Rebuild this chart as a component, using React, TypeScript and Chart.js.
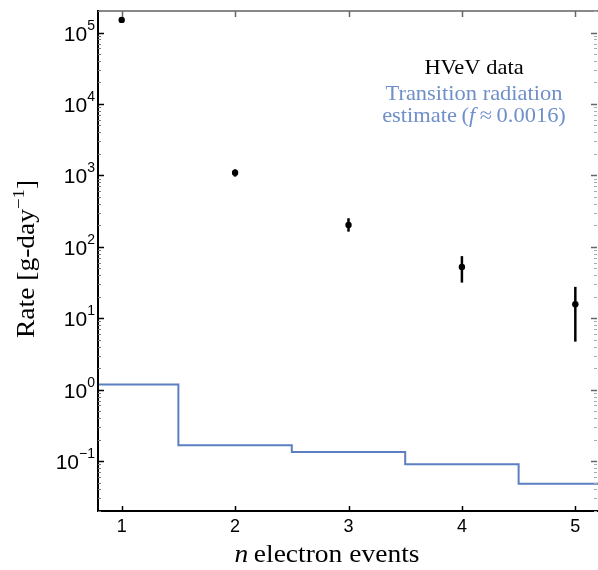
import React, { useEffect, useRef } from 'react';
import { Chart, registerables } from 'chart.js';

Chart.register(...registerables);

// ---- data ----
const nValues = [1, 2, 3, 4, 5];
const hvevRate = [1.5e5, 1090, 202, 52, 15.7];
const hvevLow = [1.42e5, 960, 163, 31.5, 4.7];
const hvevHigh = [1.58e5, 1215, 251, 74, 27.5];
const binEdges = [0.5, 1.5, 2.5, 3.5, 4.5, 5.5];
const trRate = [1.18, 0.167, 0.134, 0.09, 0.048];
const yMajorExps = [-1, 0, 1, 2, 3, 4, 5];
const xTicks = [1, 2, 3, 4, 5];

const X_MIN = 0.8;
const X_MAX = 5.2;
const Y_MIN = 0.02;
const Y_MAX = 2e5;

const LINE_BLUE = '#5b7fc1';
const TEXT_BLUE = '#6f8fc9';
const SERIF = '"Liberation Serif", "DejaVu Serif", serif';
const SANS = '"Liberation Sans", Arial, sans-serif';

// draw text (possibly in mixed fonts) with horizontal stretch, centered at cx
function drawStretched(ctx: any, parts: { t: string; font: string; dy?: number }[], cx: number, y: number, sx: number) {
  let total = 0;
  const widths = parts.map((p) => {
    ctx.font = p.font;
    const w = ctx.measureText(p.t).width;
    total += w;
    return w;
  });
  ctx.save();
  ctx.translate(cx, y);
  ctx.scale(sx, 1);
  ctx.textAlign = 'left';
  let x = -total / 2;
  parts.forEach((p, i) => {
    ctx.font = p.font;
    ctx.fillText(p.t, x, p.dy || 0);
    x += widths[i];
  });
  ctx.restore();
}

const errorBarPlugin = {
  id: 'errorBars',
  beforeDatasetsDraw(chart: any) {
    const { ctx, chartArea } = chart;
    const xs = chart.scales.x;
    const ys = chart.scales.y;
    ctx.save();
    ctx.beginPath();
    ctx.rect(chartArea.left, chartArea.top, chartArea.right - chartArea.left, chartArea.bottom - chartArea.top);
    ctx.clip();
    ctx.strokeStyle = '#000';
    ctx.lineWidth = 2.5;
    nValues.forEach((n, i) => {
      const px = xs.getPixelForValue(n);
      ctx.beginPath();
      ctx.moveTo(px, ys.getPixelForValue(hvevLow[i]));
      ctx.lineTo(px, ys.getPixelForValue(hvevHigh[i]));
      ctx.stroke();
    });
    ctx.restore();
  },
};

const axesPlugin = {
  id: 'customAxes',
  afterDraw(chart: any) {
    const { ctx, chartArea } = chart;
    const xs = chart.scales.x;
    const ys = chart.scales.y;
    const { left, right, top, bottom } = chartArea;
    ctx.save();

    // spines
    ctx.lineWidth = 2;
    ctx.strokeStyle = '#888';
    ctx.beginPath();
    ctx.moveTo(left - 1, top);
    ctx.lineTo(right, top);
    ctx.stroke();
    ctx.strokeStyle = '#000';
    ctx.beginPath();
    ctx.moveTo(left - 1, top - 1);
    ctx.lineTo(left - 1, bottom);
    ctx.lineTo(right, bottom);
    ctx.stroke();

    // x ticks (inward, bottom and top)
    ctx.lineWidth = 1.5;
    xTicks.forEach((t) => {
      const px = Math.round(xs.getPixelForValue(t)) + 0.5;
      ctx.strokeStyle = '#000';
      ctx.beginPath();
      ctx.moveTo(px, bottom);
      ctx.lineTo(px, bottom - 5);
      ctx.stroke();
      ctx.strokeStyle = '#666';
      ctx.beginPath();
      ctx.moveTo(px, top);
      ctx.lineTo(px, top + 6);
      ctx.stroke();
    });

    // y ticks (major + minor) on left and right
    for (let e = -2; e <= 5; e++) {
      for (let k = 1; k <= 9; k++) {
        const v = k * Math.pow(10, e);
        if (v < Y_MIN || v > Y_MAX) continue;
        const py = Math.round(ys.getPixelForValue(v)) + 0.5;
        const len = k === 1 ? 6 : 3;
        ctx.lineWidth = k === 1 ? 1.5 : 1;
        ctx.strokeStyle = k === 1 ? '#000' : '#777';
        ctx.beginPath();
        ctx.moveTo(left - 1, py);
        ctx.lineTo(left - 1 + len, py);
        ctx.stroke();
        ctx.strokeStyle = k === 1 ? '#666' : '#aaa';
        ctx.beginPath();
        ctx.moveTo(right - 1, py);
        ctx.lineTo(right - 1 - len, py);
        ctx.stroke();
      }
    }

    // x tick labels
    ctx.fillStyle = '#000';
    ctx.font = `18px ${SANS}`;
    ctx.textAlign = 'center';
    ctx.textBaseline = 'alphabetic';
    xTicks.forEach((t) => {
      ctx.fillText(String(t), xs.getPixelForValue(t), bottom + 21);
    });

    // y tick labels 10^e
    yMajorExps.forEach((e) => {
      const py = ys.getPixelForValue(Math.pow(10, e));
      const sup = e < 0 ? '\u2212' + Math.abs(e) : String(e);
      ctx.font = `14px ${SANS}`;
      const supW = ctx.measureText(sup).width;
      ctx.textAlign = 'right';
      ctx.fillText(sup, 95, py - 3);
      ctx.font = `21px ${SANS}`;
      ctx.fillText('10', 95 - supW, py + 8);
    });

    // x axis title: "n electron events"
    drawStretched(
      ctx,
      [
        { t: 'n', font: `italic 25px ${SERIF}` },
        { t: '\u2009electron events', font: `25px ${SERIF}` },
      ],
      327,
      562,
      1.1
    );

    // y axis title: Rate [g-day^-1]
    ctx.save();
    ctx.translate(34, 259);
    ctx.rotate(-Math.PI / 2);
    drawStretched(
      ctx,
      [
        { t: 'Rate [g-day', font: `25px ${SERIF}` },
        { t: '\u22121', font: `17px ${SERIF}`, dy: -10 },
        { t: ']', font: `25px ${SERIF}` },
      ],
      0,
      0,
      1.1
    );
    ctx.restore();

    // legend text
    ctx.fillStyle = '#000';
    drawStretched(ctx, [{ t: 'HVeV data', font: `21px ${SERIF}` }], 474, 74, 1.07);
    ctx.fillStyle = TEXT_BLUE;
    drawStretched(ctx, [{ t: 'Transition radiation', font: `21px ${SERIF}` }], 474, 100, 1.07);
    drawStretched(
      ctx,
      [
        { t: 'estimate\u2009(', font: `21px ${SERIF}` },
        { t: 'f', font: `italic 21px ${SERIF}` },
        { t: '\u2009\u2248\u20090.0016)', font: `21px ${SERIF}` },
      ],
      474,
      122,
      1.07
    );

    ctx.restore();
  },
};

export default function App() {
  const canvasRef = useRef<HTMLCanvasElement | null>(null);

  useEffect(() => {
    document.body.style.margin = '0';
    const canvas = canvasRef.current;
    if (!canvas) return;

    const stepData = binEdges.map((e, i) => ({ x: e, y: trRate[Math.min(i, trRate.length - 1)] }));
    const pointData = nValues.map((n, i) => ({ x: n, y: hvevRate[i] }));

    const chart = new Chart(canvas, {
      type: 'scatter',
      data: {
        datasets: [
          {
            type: 'line',
            label: 'Transition radiation',
            data: stepData,
            stepped: 'before',
            borderColor: LINE_BLUE,
            borderWidth: 2,
            pointRadius: 0,
            fill: false,
            showLine: true,
          } as any,
          {
            type: 'scatter',
            label: 'HVeV data',
            data: pointData,
            backgroundColor: '#000',
            borderColor: '#000',
            pointRadius: 3.2,
            pointBorderWidth: 0,
          },
        ],
      },
      options: {
        animation: false,
        responsive: false,
        maintainAspectRatio: false,
        devicePixelRatio: 1,
        layout: { autoPadding: false, padding: { left: 99, right: 0, top: 11, bottom: 59 } },
        plugins: {
          legend: { display: false },
          tooltip: { enabled: false },
        },
        scales: {
          x: {
            type: 'linear',
            min: X_MIN,
            max: X_MAX,
            display: false,
          },
          y: {
            type: 'logarithmic',
            min: Y_MIN,
            max: Y_MAX,
            display: false,
          },
        },
      },
      plugins: [errorBarPlugin, axesPlugin],
    });

    return () => {
      chart.destroy();
    };
  }, []);

  return (
    <div style={{ position: 'relative', width: 598, height: 570, background: '#fff' }}>
      <canvas ref={canvasRef} width={598} height={570} style={{ display: 'block', width: 598, height: 570 }} />
    </div>
  );
}
